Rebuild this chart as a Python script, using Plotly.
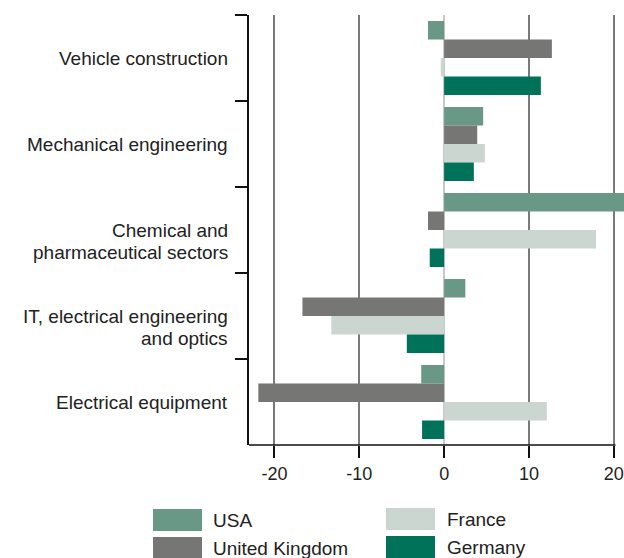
import plotly.graph_objects as go

sectors = [
    "Vehicle construction",
    "Mechanical engineering",
    "Chemical and pharmaceutical sectors",
    "IT, electrical engineering and optics",
    "Electrical equipment",
]
sector_lines = [
    ["Vehicle construction"],
    ["Mechanical engineering"],
    ["Chemical and", "pharmaceutical sectors"],
    ["IT, electrical engineering", "and optics"],
    ["Electrical equipment"],
]
countries = ["USA", "United Kingdom", "France", "Germany"]
usa = [-1.9, 4.6, 22.0, 2.5, -2.7]
uk = [12.7, 3.9, -1.9, -16.7, -21.9]
france = [-0.4, 4.8, 17.9, -13.3, 12.1]
germany = [11.4, 3.5, -1.7, -4.4, -2.6]
x_ticks = [-20, -10, 0, 10, 20]
x_ticktext = ["-20", "-10", "0", "10", "20"]
colors = ["#699887", "#767674", "#ccd6d1", "#007259"]

W, H = 624, 558
L, R, T, B = 249, 0, 15, 113
FONT = "Liberation Sans, Arial, sans-serif"

fig = go.Figure()
for name, vals, col in zip(countries, [usa, uk, france, germany], colors):
    fig.add_trace(go.Bar(y=sectors, x=vals, name=name, orientation="h",
                         marker=dict(color=col, line=dict(width=0)),
                         showlegend=False))


def px_x(p):
    return (p - L) / (W - L - R)


def px_y(p):
    return (H - B - p) / (H - T - B)


# category labels: first line sits on the category centre
for cat, lines in zip(sectors, sector_lines):
    for i, line in enumerate(lines):
        fig.add_annotation(xref="paper", yref="y", x=0, y=cat, text=line,
                           showarrow=False, xanchor="right", yanchor="middle",
                           xshift=-19, yshift=-22 * i,
                           font=dict(size=19, color="#222", family=FONT))

# bottom axis line (stops at 20, bars run past it)
fig.add_shape(type="line", xref="x", yref="paper", x0=-23, x1=20.2, y0=0, y1=0,
              line=dict(color="#111", width=1.5))

# legend drawn by hand to get the wide swatches
legend_pos = [(153, 509, 211), (153, 537, 211), (386, 508, 445), (386, 536, 445)]
for (x0, y0, tx), name, col in zip(legend_pos, countries, colors):
    fig.add_shape(type="rect", xref="paper", yref="paper",
                  x0=px_x(x0), x1=px_x(x0 + 49), y0=px_y(y0), y1=px_y(y0 + 22),
                  fillcolor=col, line=dict(width=0), layer="above")
    fig.add_annotation(xref="paper", yref="paper", x=px_x(tx), y=px_y(y0 + 11),
                       text=name, showarrow=False, xanchor="left", yanchor="middle",
                       font=dict(size=19, color="#222", family=FONT))

fig.update_layout(
    width=W, height=H,
    margin=dict(l=L, r=R, t=T, b=B),
    barmode="group", bargap=0.14, bargroupgap=0,
    plot_bgcolor="white", paper_bgcolor="white",
    font=dict(family=FONT, size=19, color="#222"),
)
fig.update_xaxes(range=[-23, 21.2], tickvals=x_ticks, ticktext=x_ticktext,
                 showgrid=True, gridcolor="#7a7a7a", gridwidth=1.5,
                 zeroline=True, zerolinecolor="#c8c8c8", zerolinewidth=1.5,
                 showline=False, ticks="outside", ticklen=12, tickwidth=1.5,
                 tickcolor="#111", tickfont=dict(size=18))
fig.update_yaxes(autorange="reversed", showline=True, linecolor="#111", linewidth=1.5,
                 ticks="outside", tickson="boundaries", ticklen=12, tickwidth=1.5,
                 tickcolor="#111", showgrid=False, showticklabels=False)

# drop the default 8px page margin so the figure fills the window
fig.write_html("out.html", config={"displayModeBar": False},
               post_script="document.body.style.margin='0';"
                           "document.body.style.overflow='hidden';")
